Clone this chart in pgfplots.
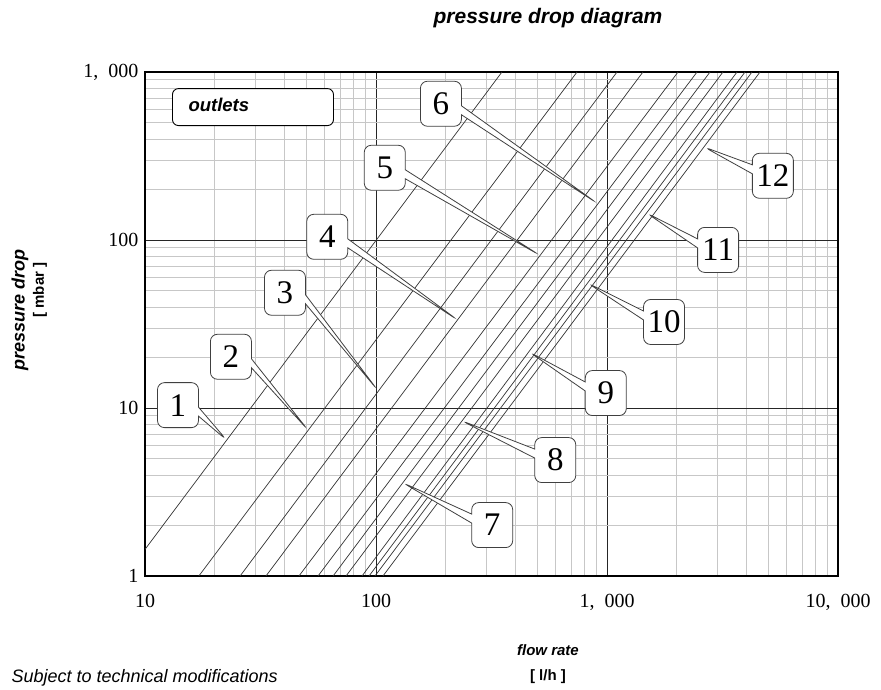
\documentclass[border=0pt]{standalone}
\usepackage{pgfplots}
\pgfplotsset{compat=1.18}
\usepackage{fontspec}
\setmainfont{Liberation Serif}
\setsansfont{Liberation Sans}
\usetikzlibrary{shapes.callouts}

\tikzset{lbl/.style={rectangle callout, draw=black!75, line width=0.8pt, fill=white,
  rounded corners=7pt, minimum width=41pt, minimum height=45pt, inner sep=2pt,
  callout pointer width=9pt, font=\fontsize{33}{33}\selectfont}}

\begin{document}
\begin{tikzpicture}[x=1pt,y=1pt]
\useasboundingbox (-145,-114) rectangle (736,576);
\begin{axis}[
  at={(0,0)}, anchor=south west,
  scale only axis, width=693pt, height=504pt,
  xmode=log, ymode=log,
  xmin=10, xmax=10000, ymin=1, ymax=1000,
  xtick={10,100,1000,10000}, xticklabels={10,100,{1,\hspace{0.5em}000},{10,\hspace{0.5em}000}},
  ytick={1,10,100,1000}, yticklabels={1,10,100,{1,\hspace{0.5em}000}},
  major tick length=0pt, minor tick length=0pt,
  grid=both,
  major grid style={black!85, line width=0.9pt},
  minor grid style={black!22, line width=0.6pt},
  axis line style={black, line width=1.6pt},
  tick label style={font=\fontsize{20}{20}\selectfont},
  xticklabel style={yshift=-15pt},
  yticklabel style={xshift=-3pt},
]
\addplot[black!80, line width=0.7pt] coordinates {(10,1.44) (351,1000)};
\addplot[black!80, line width=0.7pt] coordinates {(17.1,1) (742,1000)};
\addplot[black!80, line width=0.7pt] coordinates {(25.8,1) (1105,1000)};
\addplot[black!80, line width=0.7pt] coordinates {(33.4,1) (1431,1000)};
\addplot[black!80, line width=0.7pt] coordinates {(46.4,1) (2030,1000)};
\addplot[black!80, line width=0.7pt] coordinates {(56.1,1) (2453,1000)};
\addplot[black!80, line width=0.7pt] coordinates {(65.2,1) (2792,1000)};
\addplot[black!80, line width=0.7pt] coordinates {(74.2,1) (3178,1000)};
\addplot[black!80, line width=0.7pt] coordinates {(87.0,1) (3654,1000)};
\addplot[black!80, line width=0.7pt] coordinates {(93.3,1) (3958,1000)};
\addplot[black!80, line width=0.7pt] coordinates {(99.0,1) (4243,1000)};
\addplot[black!80, line width=0.7pt] coordinates {(107.2,1) (4596,1000)};

\node[draw=black, line width=0.9pt, rounded corners=6pt, fill=white, anchor=north west,
  minimum width=161pt, minimum height=37pt] at (axis description cs:0.039,0.968) {};
\node[anchor=west, inner sep=0pt, font=\sffamily\bfseries\itshape\fontsize{18.5}{18.5}\selectfont]
  at (axis description cs:0.0625,0.934) {outlets};

\node[lbl, callout absolute pointer={(axis description cs:0.1176,0.270)}] at (axis description cs:0.0476,0.339) {1};
\node[lbl, callout absolute pointer={(axis description cs:0.235,0.290)}] at (axis description cs:0.124,0.435) {2};
\node[lbl, callout absolute pointer={(axis description cs:0.335,0.370)}] at (axis description cs:0.202,0.562) {3};
\node[lbl, callout absolute pointer={(axis description cs:0.451,0.508)}] at (axis description cs:0.263,0.673) {4};
\node[lbl, callout absolute pointer={(axis description cs:0.569,0.637)}] at (axis description cs:0.346,0.810) {5};
\node[lbl, callout absolute pointer={(axis description cs:0.652,0.740)}] at (axis description cs:0.427,0.937) {6};
\node[lbl, callout absolute pointer={(axis description cs:0.372,0.185)}] at (axis description cs:0.501,0.101) {7};
\node[lbl, callout absolute pointer={(axis description cs:0.457,0.308)}] at (axis description cs:0.592,0.230) {8};
\node[lbl, callout absolute pointer={(axis description cs:0.555,0.444)}] at (axis description cs:0.665,0.363) {9};
\node[lbl, callout absolute pointer={(axis description cs:0.639,0.581)}] at (axis description cs:0.749,0.504) {10};
\node[lbl, callout absolute pointer={(axis description cs:0.724,0.720)}] at (axis description cs:0.827,0.647) {11};
\node[lbl, callout absolute pointer={(axis description cs:0.807,0.851)}] at (axis description cs:0.906,0.794) {12};
\end{axis}
\node[font=\sffamily\bfseries\itshape\fontsize{21}{21}\selectfont] at (403,558) {pressure drop diagram};
\node[font=\sffamily\bfseries\itshape\fontsize{15}{15}\selectfont] at (403,-74) {flow rate};
\node[font=\sffamily\bfseries\fontsize{15}{15}\selectfont] at (403,-101) {[ l/h ]};
\node[font=\sffamily\itshape\fontsize{18}{18}\selectfont, anchor=west] at (-137,-102) {Subject to technical modifications};
\node[font=\sffamily\bfseries\itshape\fontsize{18}{18}\selectfont, rotate=90] at (-125,266) {pressure drop};
\node[font=\sffamily\bfseries\fontsize{15}{15}\selectfont, rotate=90] at (-105,286) {[ mbar ]};
\end{tikzpicture}
\end{document}
